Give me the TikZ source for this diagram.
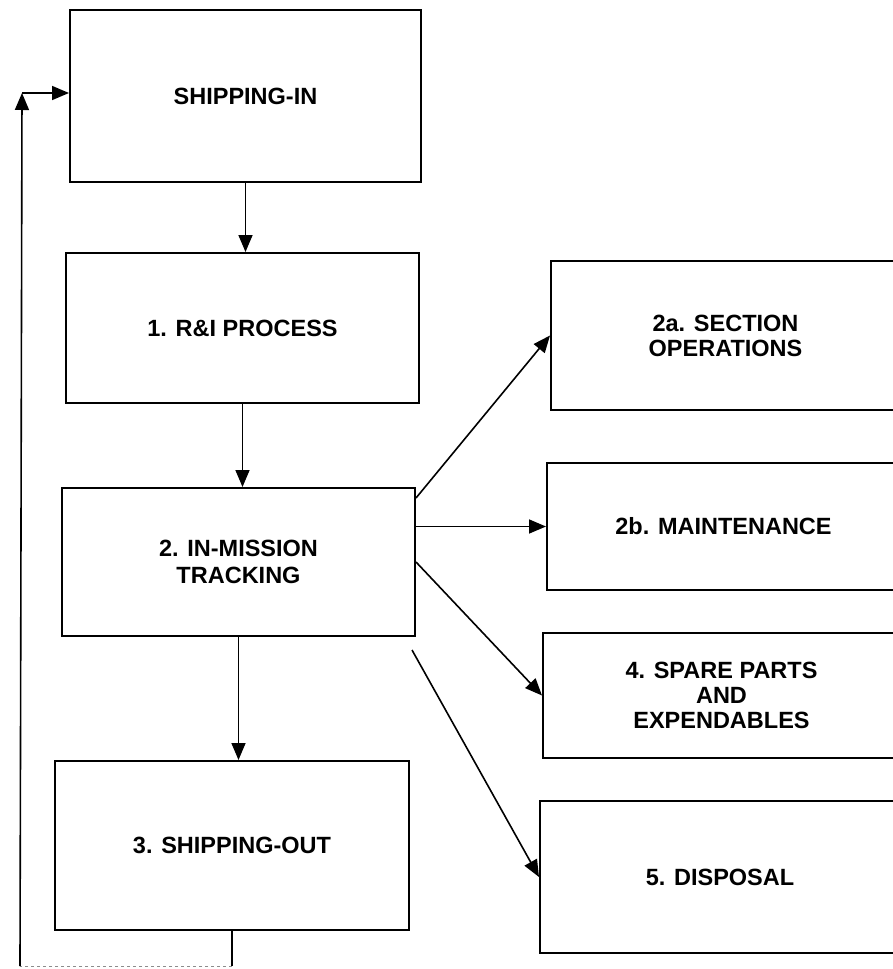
\documentclass[tikz,border=0pt]{standalone}
\usepackage{fontspec}
\setmainfont{Liberation Sans}
\usetikzlibrary{arrows.meta,calc}
\tikzset{
  box/.style={draw=black, line width=2pt, rectangle, inner sep=0pt, align=center,
    font=\bfseries\fontsize{23.5}{25}\selectfont},
  conn/.style={draw=black, line width=1.6pt, -{Triangle[length=17pt,width=14pt]}},
  plain/.style={draw=black, line width=1.6pt},
}
\begin{document}
\begin{tikzpicture}[x=1pt,y=-1pt]
\useasboundingbox (0,0) rectangle (893,969);
\clip (0,0) rectangle (893,969);
% left column
\node[box, minimum width=351pt, minimum height=172pt] (SI) at (245.5,96) {SHIPPING-IN};
\node[box, minimum width=353pt, minimum height=150pt] (RI) at (242.5,328) {1. R\&I PROCESS};
\node[box, minimum width=353pt, minimum height=148pt, font=\bfseries\fontsize{23.5}{27}\selectfont] (IM) at (238.5,562) {2. IN-MISSION\\TRACKING};
\node[box, minimum width=354pt, minimum height=169pt] (SO) at (232,845.5) {3. SHIPPING-OUT};
% right column
\node[box, minimum width=349pt, minimum height=149pt] (A) at (725.5,335.5) {2a. SECTION\\OPERATIONS};
\node[box, minimum width=353pt, minimum height=127pt] (B) at (723.5,526.5) {2b. MAINTENANCE};
\node[box, minimum width=357pt, minimum height=125pt] (SP) at (721.5,695.5) {4. SPARE PARTS\\AND\\EXPENDABLES};
\node[box, minimum width=360pt, minimum height=152pt] (DI) at (720,877) {5. DISPOSAL};
% vertical flow
\draw[conn] (SI.south) -- (SI.south |- RI.north);
\draw[conn] (RI.south) -- (RI.south |- IM.north);
\draw[conn] (IM.south) -- (IM.south |- SO.north);
% branches
\coordinate (sA) at (416,498);
\coordinate (sD) at (412,650);
\draw[conn] (sA) -- (A.west);
\draw[conn] (IM.east |- B.west) -- (B.west);
\draw[conn] (IM.east) -- (SP.west);
\draw[conn] (sD) -- (DI.west);
% feedback loop
\coordinate (lb) at (232,966);
\coordinate (ll) at (20,966);
\coordinate (lt) at (22,93);
\draw[plain] (SO.south) -- (lb);
\draw[draw=black!45, line width=1pt, dashed] (lb) -- (ll);
\draw[conn] (ll) -- (lt);
\draw[conn] (lt) -- (SI.west |- lt);
\end{tikzpicture}
\end{document}
